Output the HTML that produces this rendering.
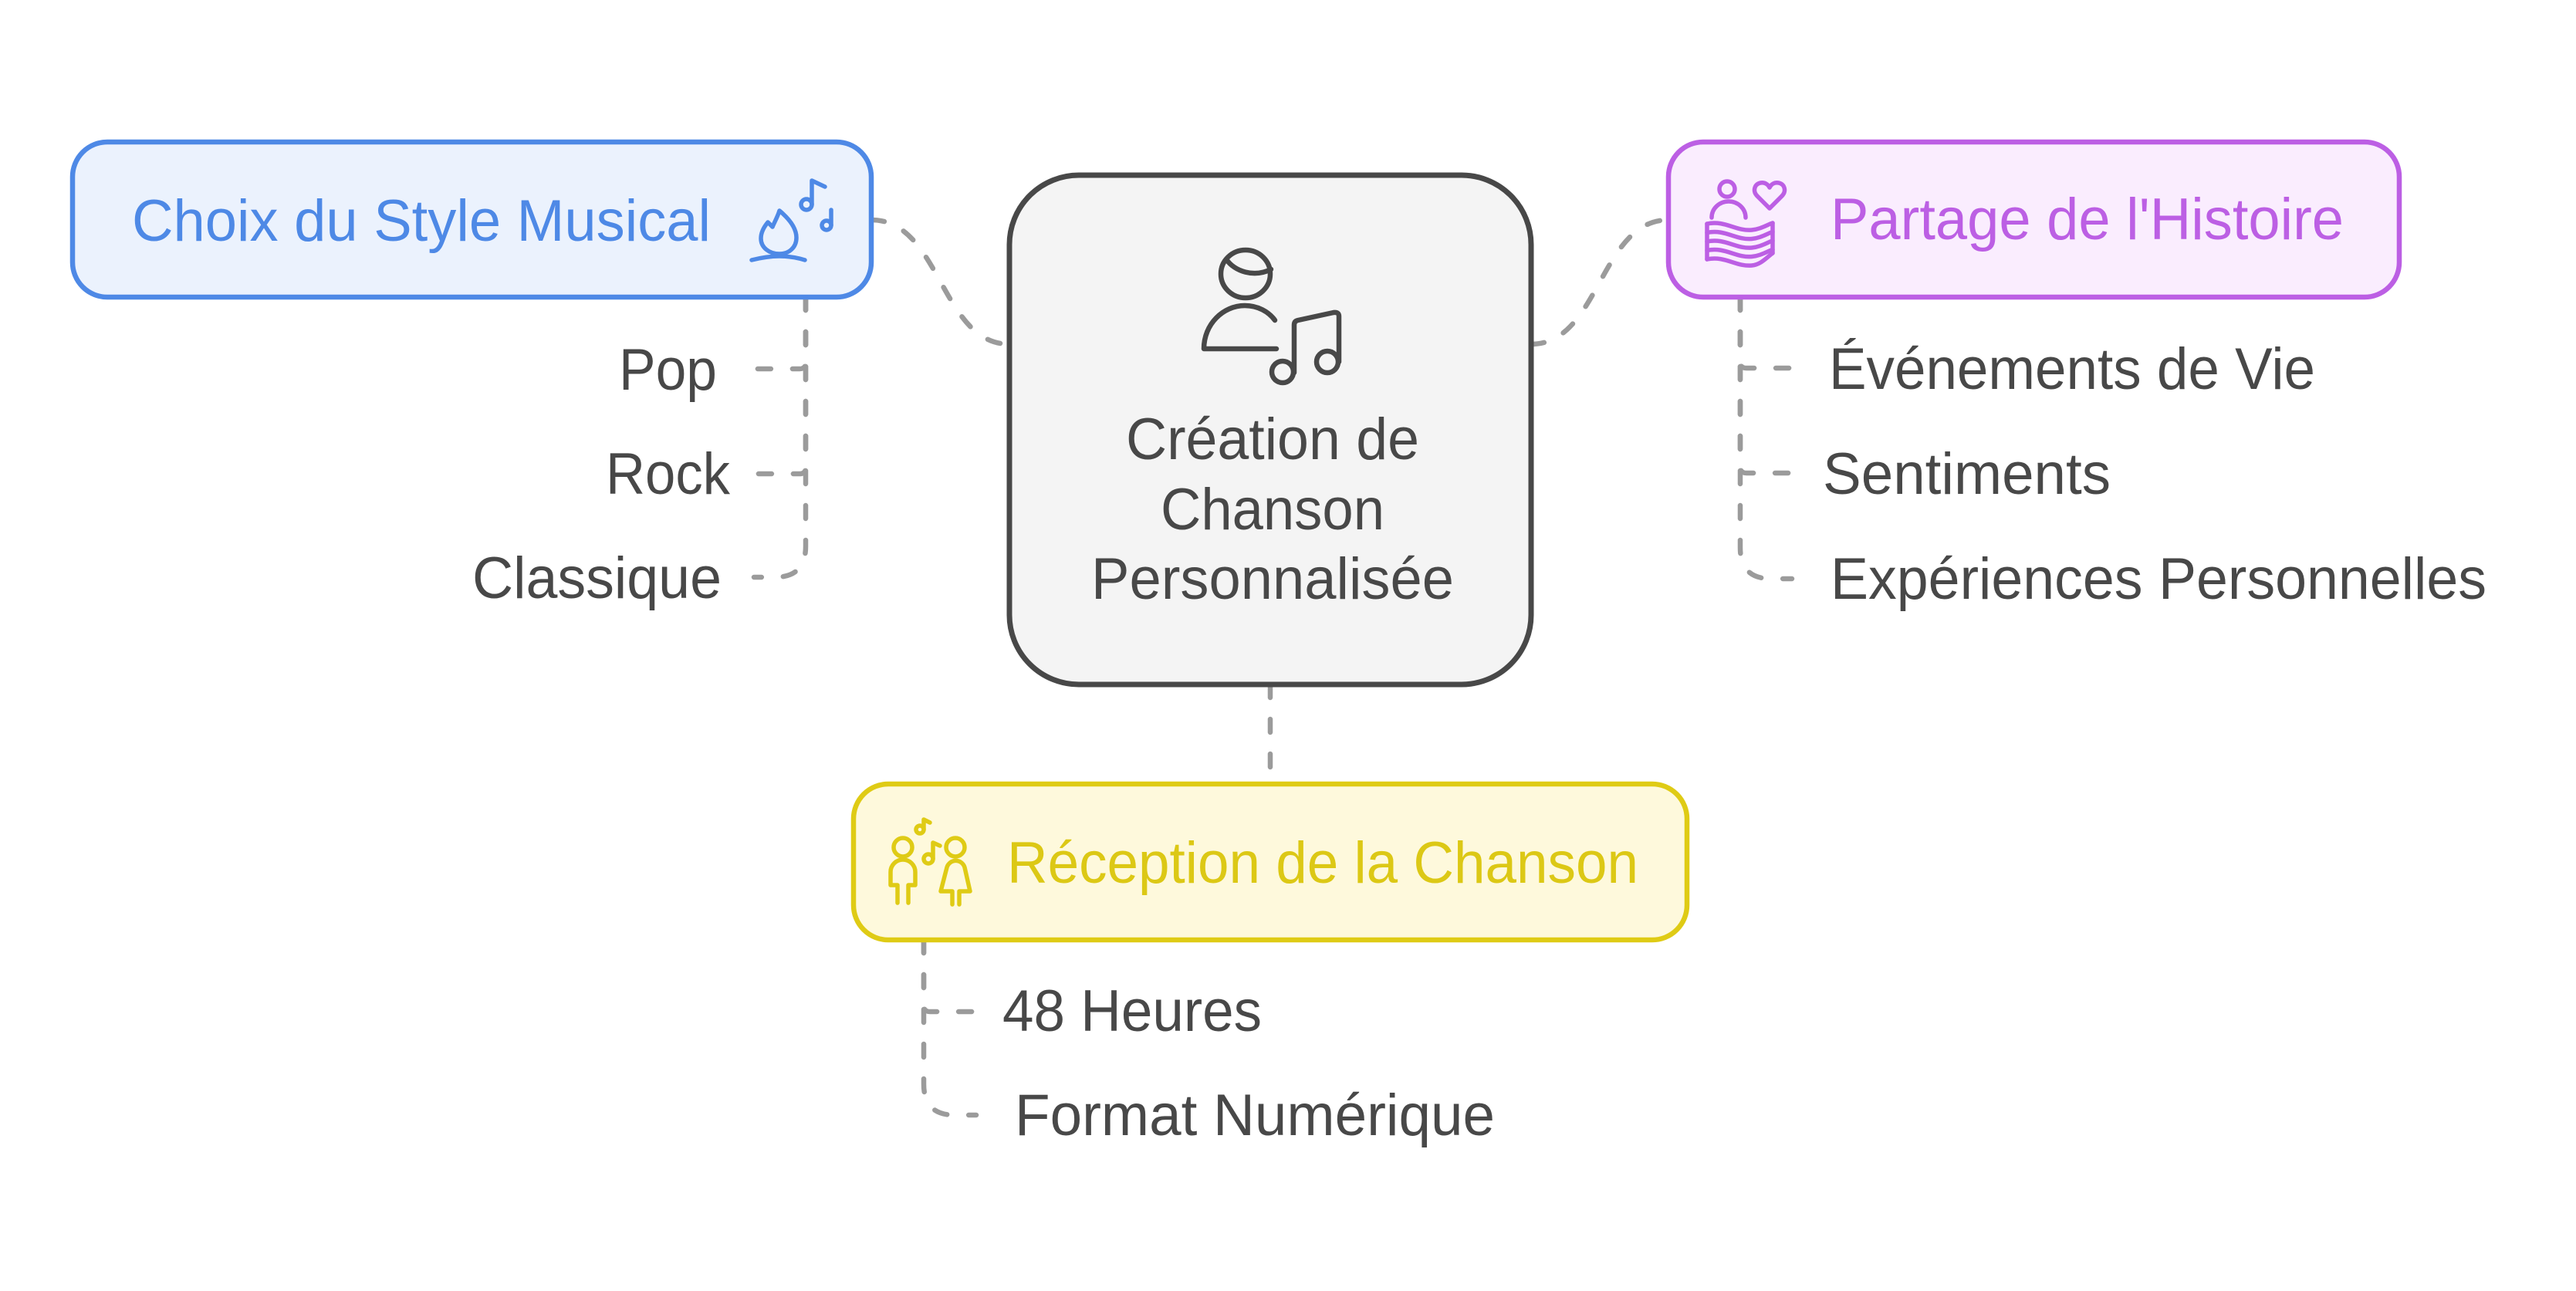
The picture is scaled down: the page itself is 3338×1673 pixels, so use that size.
<!DOCTYPE html>
<html>
<head>
<meta charset="utf-8">
<style>
  html,body{margin:0;padding:0;background:#ffffff;}
  svg{display:block;}
  text{font-family:"Liberation Sans",Arial,sans-serif;font-size:76px;}
</style>
</head>
<body>
<svg width="3338" height="1673" viewBox="0 0 3338 1673" xmlns="http://www.w3.org/2000/svg">
  <rect x="0" y="0" width="3338" height="1673" fill="#ffffff"/>

  <!-- connectors -->
  <g fill="none" stroke="#9b9b9b" stroke-width="6.5" stroke-linecap="round" stroke-dasharray="17 28">
    <path d="M1129,285 C1219,285 1219,446 1308,446"/>
    <path d="M1984,446 C2073,446 2073,285 2162,285"/>
    <path d="M1646,887 L1646,1016"/>
    <!-- blue leaves -->
    <path d="M1044,385 L1044,470 Q1044,478 1036,478 L977,478"/>
    <path d="M1044,385 L1044,606 Q1044,614 1036,614 L977,614"/>
    <path d="M1044,385 L1044,708 Q1044,748 1004,748 L977,748"/>
    <!-- purple leaves -->
    <path d="M2255,385 L2255,469 Q2255,477 2263,477 L2322,477"/>
    <path d="M2255,385 L2255,605 Q2255,613 2263,613 L2322,613"/>
    <path d="M2255,385 L2255,710 Q2255,750 2295,750 L2322,750"/>
    <!-- yellow leaves -->
    <path d="M1197,1218 L1197,1303 Q1197,1311 1205,1311 L1265,1311"/>
    <path d="M1197,1218 L1197,1405 Q1197,1445 1237,1445 L1265,1445"/>
  </g>

  <!-- boxes -->
  <rect x="94" y="184" width="1035" height="201" rx="45" ry="45" fill="#ebf2fd" stroke="#4e89e6" stroke-width="6.5"/>
  <rect x="2162" y="184" width="947" height="201" rx="45" ry="45" fill="#faedfe" stroke="#bc5fe4" stroke-width="6.5"/>
  <rect x="1106" y="1016" width="1080" height="202" rx="45" ry="45" fill="#fef9dc" stroke="#dfcb15" stroke-width="6.5"/>
  <rect x="1308" y="227" width="676" height="660" rx="90" ry="90" fill="#f4f4f4" stroke="#484848" stroke-width="7"/>

  <!-- box texts -->
  <text x="171" y="312" fill="#4e89e6" textLength="750" lengthAdjust="spacingAndGlyphs">Choix du Style Musical</text>
  <text x="2372" y="310" fill="#bc5fe4" textLength="665" lengthAdjust="spacingAndGlyphs">Partage de l'Histoire</text>
  <text x="1305" y="1144" fill="#dcc815" textLength="818" lengthAdjust="spacingAndGlyphs">Réception de la Chanson</text>

  <g fill="#484848">
    <text x="1459" y="595" textLength="380" lengthAdjust="spacingAndGlyphs">Création de</text>
    <text x="1504" y="686" textLength="290" lengthAdjust="spacingAndGlyphs">Chanson</text>
    <text x="1414" y="776" textLength="470" lengthAdjust="spacingAndGlyphs">Personnalisée</text>

    <text x="802" y="505" textLength="127" lengthAdjust="spacingAndGlyphs">Pop</text>
    <text x="785" y="640" textLength="161" lengthAdjust="spacingAndGlyphs">Rock</text>
    <text x="612" y="775" textLength="323" lengthAdjust="spacingAndGlyphs">Classique</text>

    <text x="2370" y="504" textLength="630" lengthAdjust="spacingAndGlyphs">Événements de Vie</text>
    <text x="2362" y="640" textLength="373" lengthAdjust="spacingAndGlyphs">Sentiments</text>
    <text x="2372" y="776" textLength="850" lengthAdjust="spacingAndGlyphs">Expériences Personnelles</text>

    <text x="1299" y="1336" textLength="336" lengthAdjust="spacingAndGlyphs">48 Heures</text>
    <text x="1315" y="1471" textLength="622" lengthAdjust="spacingAndGlyphs">Format Numérique</text>
  </g>

  <!-- center icon: person with music notes -->
  <g fill="none" stroke="#484848" stroke-width="6.5" stroke-linecap="round" stroke-linejoin="round">
    <ellipse cx="1614" cy="355" rx="32" ry="31"/>
    <path d="M1589,336 C1600,352 1625,360 1647,349"/>
    <path d="M1654,452 H1560 C1560,420 1585,396 1613,396 C1630,396 1644,404 1652,415"/>
    <circle cx="1662" cy="482" r="14"/>
    <circle cx="1720" cy="469" r="14"/>
    <path d="M1677,483 V421 Q1677,416 1682,415 L1728,405 Q1735,404 1735,410 V469"/>
  </g>

  <!-- blue icon: campfire with notes -->
  <g fill="none" stroke="#4e89e6" stroke-width="5.5" stroke-linecap="round" stroke-linejoin="round">
    <path d="M995,288 L1001,294 C1004,287 1008,280 1010,273 C1022,283 1032,295 1032,308 C1032,321 1022,329 1010,329 C997,329 986,321 986,309 C986,301 990,294 995,288 Z"/>
    <path d="M974,337 C986,334 998,332 1010,332 C1022,332 1033,334 1043,337"/>
    <circle cx="1045" cy="265" r="7"/>
    <path d="M1052,265 V234 L1069,242"/>
    <circle cx="1071" cy="292" r="6"/>
    <path d="M1077,292 V272"/>
  </g>

  <!-- purple icon: person, heart, pages -->
  <g fill="none" stroke="#bc5fe4" stroke-width="5.5" stroke-linecap="round" stroke-linejoin="round">
    <circle cx="2238" cy="245" r="10"/>
    <path d="M2218,282 A22,21 0 0 1 2262,282"/>
    <path d="M2293,270 L2277,254 C2271,248 2273,239 2281,237 C2287,236 2291,239 2293,243 C2295,239 2299,236 2305,237 C2313,239 2315,248 2309,254 Z"/>
    <path d="M2212,290 V336"/>
    <path d="M2297,289 V328"/>
    <path d="M2212,290 C2235,285 2250,300 2270,298 C2282,297 2290,291 2297,289"/>
    <path d="M2212,301.5 C2235,296.5 2250,311.5 2270,309.5 C2282,308.5 2290,302.5 2297,300.5"/>
    <path d="M2212,313 C2235,308 2250,323 2270,321 C2282,320 2290,314 2297,312"/>
    <path d="M2212,324.5 C2235,319.5 2250,334.5 2270,332.5 C2282,331.5 2290,325.5 2297,323.5"/>
    <path d="M2212,336 C2235,331 2250,346 2270,344 C2282,343 2290,333 2297,328"/>
  </g>

  <!-- yellow icon: two people with notes -->
  <g fill="none" stroke="#dfcb15" stroke-width="5.5" stroke-linecap="round" stroke-linejoin="round">
    <circle cx="1170" cy="1098" r="12"/>
    <path d="M1163,1170 V1147 H1154 V1130 A16,16 0 0 1 1186,1130 V1147 H1177 V1170"/>
    <circle cx="1238" cy="1098" r="12"/>
    <path d="M1234,1172 V1155 H1219 L1227,1124 A12,12 0 0 1 1250,1124 L1257,1155 H1243 V1172"/>
    <circle cx="1192" cy="1075" r="5"/>
    <path d="M1197,1075 V1062 L1205,1066"/>
    <circle cx="1203" cy="1113" r="6"/>
    <path d="M1209,1113 V1092 L1218,1096"/>
  </g>
</svg>
</body>
</html>
